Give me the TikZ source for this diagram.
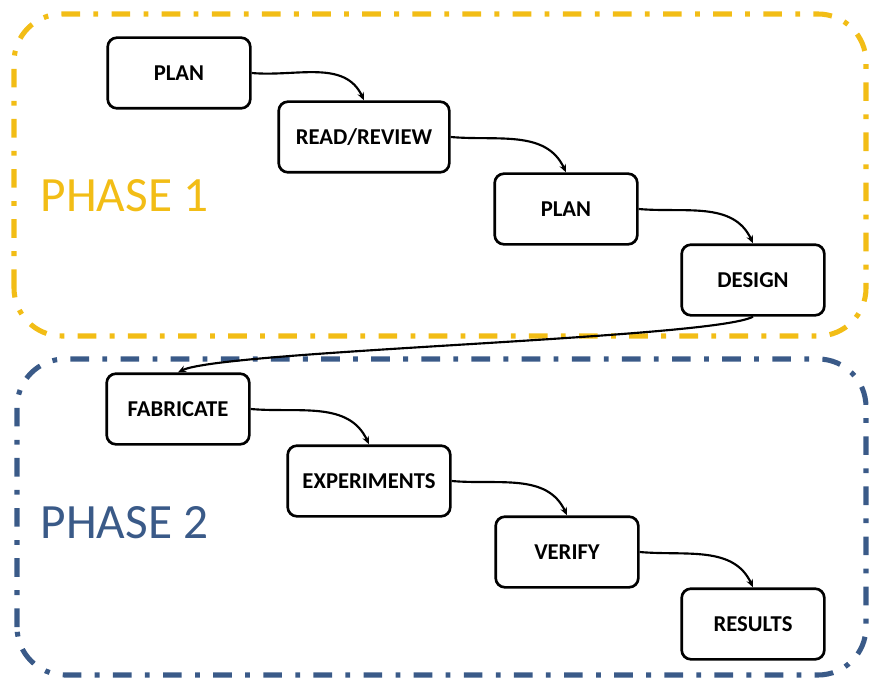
\documentclass[tikz,border=0pt]{standalone}
\usepackage{fontspec}
\setmainfont{Carlito}
\usetikzlibrary{positioning,calc,arrows.meta}
\usepackage{xcolor}
\definecolor{phaseyellow}{RGB}{242,189,22}
\definecolor{phaseblue}{RGB}{58,90,136}

\begin{document}
\begin{tikzpicture}[
      x=0.75pt, y=0.75pt, % one unit per reference pixel
      stage/.style={rectangle, draw, line width=2pt, fill=white, text centered, rounded corners=7pt, minimum height=53pt, minimum width=107pt, font=\bfseries\fontsize{17}{19}\selectfont},
      frame/.style={line width=3.8pt, rounded corners=36pt, dash pattern=on 14pt off 10pt on 3.6pt off 10pt},
      phase/.style={anchor=west, font=\fontsize{37}{40}\selectfont},
      line/.style={draw, line width=1.6pt, -{Stealth[length=6pt, width=5pt]}}
  ]
      \useasboundingbox (0,0) rectangle (870,683);

      % Phase frames
      \draw [frame, phaseyellow] (14,347) rectangle (866,669);
      \draw [frame, phaseblue] (17,8) rectangle (866,324);
      \node (phase1) [phase, text=phaseyellow] at (36,487) {PHASE 1};
      \node (phase2) [phase, text=phaseblue] at (36,160) {PHASE 2};

      % Nodes - staircase, phase 1
      \node (plan1) [stage] at (179,610) {PLAN};
      \node (review) [stage, minimum width=128pt] at (364,546) {READ/REVIEW};
      \node (plan2) [stage] at (566,474) {PLAN};
      \node (design) [stage] at (753,403) {DESIGN};

      % Nodes - staircase, phase 2
      \node (fabricate) [stage] at (178,274) {FABRICATE};
      \node (experiments) [stage, minimum width=122pt] at (369,202) {EXPERIMENTS};
      \node (verify) [stage] at (567,131) {VERIFY};
      \node (results) [stage] at (753,59) {RESULTS};

      % Connections
      \path [line] (plan1.east) to[out=-5, in=115] (review.north);
      \path [line] (review.east) to[out=-5, in=115] (plan2.north);
      \path [line] (plan2.east) to[out=-5, in=115] (design.north);
      \path [line] (design.south) .. controls +(-40,-22) and +(45,22) .. (fabricate.north);
      \path [line] (fabricate.east) to[out=-5, in=115] (experiments.north);
      \path [line] (experiments.east) to[out=-5, in=115] (verify.north);
      \path [line] (verify.east) to[out=-5, in=115] (results.north);
  \end{tikzpicture}
\end{document}
